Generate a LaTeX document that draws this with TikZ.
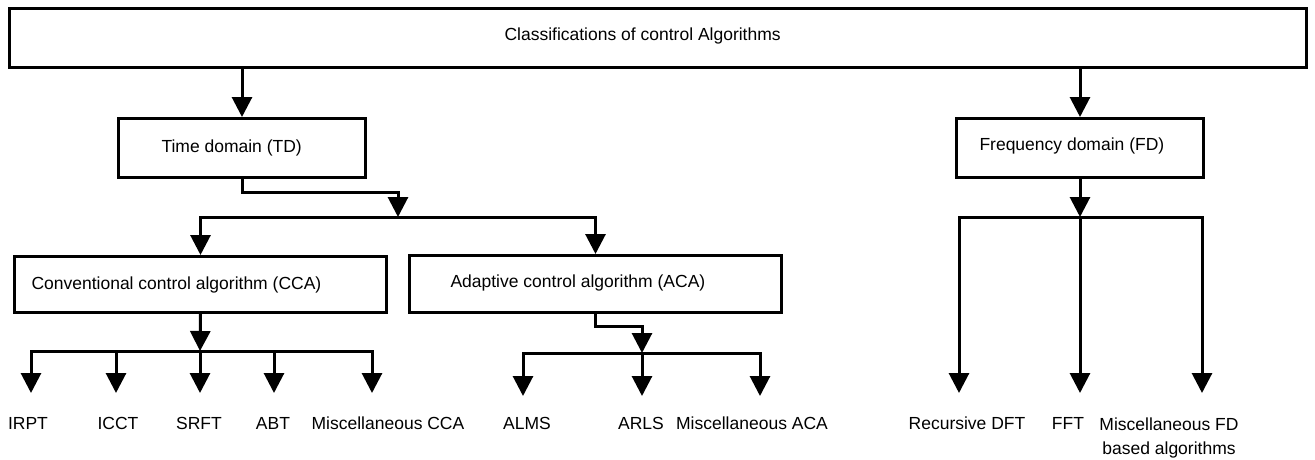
\documentclass[tikz,border=0pt]{standalone}
\usepackage{fontspec}
\setmainfont{Liberation Sans}
\usetikzlibrary{arrows.meta,positioning}

\begin{document}
\begin{tikzpicture}[
            x=1pt,y=-1pt,
            line width=3pt,
            box/.style={draw,rectangle,inner sep=0pt},
            txt/.style={inner sep=0pt,font=\fontsize{17.5}{24}\selectfont},
            arr/.style={-{Triangle[length=20pt,width=20pt]},line join=miter}
        ]
            \useasboundingbox (0,0) rectangle (1315,460);

            % boxes
            \node (top) [box,minimum width=1297pt,minimum height=59pt] at (658,38)    {};
            \node (td)  [box,minimum width=247pt,minimum height=59pt]  at (242,148)   {};
            \node (fd)  [box,minimum width=247pt,minimum height=59pt]  at (1080,148)  {};
            \node (cca) [box,minimum width=372pt,minimum height=56pt]  at (200.5,284.5) {};
            \node (aca) [box,minimum width=372pt,minimum height=57pt]  at (595.5,284)   {};

            \node (toptxt) [txt,anchor=base west] at (503,41)  {Classifications of control Algorithms};
            \node (tdtxt)  [txt,anchor=base west] at (160,152) {Time domain (TD)};
            \node (fdtxt)  [txt,anchor=base west] at (978,150) {Frequency domain (FD)};
            \node (ccatxt) [txt,anchor=base west] at (30,289)  {Conventional control algorithm (CCA)};
            \node (acatxt) [txt,anchor=base west] at (449,287) {Adaptive control algorithm (ACA)};

            % junctions and arrow ends
            \coordinate (tdj)  at (398,217);
            \coordinate (fdj)  at (1080,217);
            \coordinate (ccaj) at (200,351);
            \coordinate (acaj) at (642,353);

            \coordinate (irptend) at (31,393);
            \coordinate (icctend) at (116,393);
            \coordinate (srftend) at (200,393);
            \coordinate (abtend)  at (274,393);
            \coordinate (mccaend) at (372,393);
            \coordinate (almsend) at (523,396);
            \coordinate (arlsend) at (642,396);
            \coordinate (macaend) at (760,396);
            \coordinate (rdftend) at (959,393);
            \coordinate (fftend)  at (1080,393);
            \coordinate (mfdend)  at (1202,393);

            % leaves
            \node (irpt) [txt,anchor=base] at (28,429)  {IRPT};
            \node (icct) [txt,anchor=base] at (118,429) {ICCT};
            \node (srft) [txt,anchor=base] at (199,429) {SRFT};
            \node (abt)  [txt,anchor=base] at (273,429) {ABT};
            \node (mcca) [txt,anchor=base] at (388,429) {Miscellaneous CCA};
            \node (alms) [txt,anchor=base] at (527,429) {ALMS};
            \node (arls) [txt,anchor=base] at (641,429) {ARLS};
            \node (maca) [txt,anchor=base] at (752,429) {Miscellaneous ACA};
            \node (rdft) [txt,anchor=base] at (967,429) {Recursive DFT};
            \node (fft)  [txt,anchor=base] at (1068,429) {FFT};
            \node (mfd)  [txt,anchor=north,align=center] at (1169,416.5) {Miscellaneous FD\\based algorithms};

            % connectors
            \draw [arr] (td.north |- top.south) -- (td.north);
            \draw [arr] (fd.north |- top.south) -- (fd.north);
            \draw [arr] (td.south) -- ++(0,13) -| (tdj);
            \draw [arr] (tdj) -| (cca.north);
            \draw [arr] (tdj) -| (aca.north);
            \draw [arr] (cca.south) -- (ccaj);
            \draw [arr] (aca.south) -- ++(0,12) -| (acaj);
            \draw [arr] (fd.south) -- (fdj);

            \draw [arr] (ccaj) -| (irptend);
            \draw [arr] (ccaj) -| (icctend);
            \draw [arr] (ccaj) -| (srftend);
            \draw [arr] (ccaj) -| (abtend);
            \draw [arr] (ccaj) -| (mccaend);
            \draw [arr] (acaj) -| (almsend);
            \draw [arr] (acaj) -| (arlsend);
            \draw [arr] (acaj) -| (macaend);
            \draw [arr] (fdj)  -| (rdftend);
            \draw [arr] (fdj)  -| (fftend);
            \draw [arr] (fdj)  -| (mfdend);
        \end{tikzpicture}
\end{document}
